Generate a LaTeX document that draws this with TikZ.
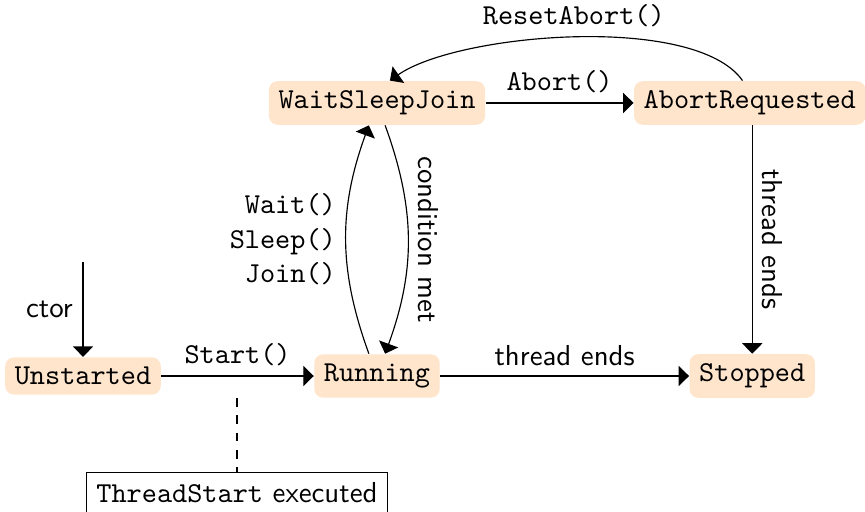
\documentclass[tikz,border=0pt]{standalone}
\usepackage{tikz}
\usetikzlibrary{positioning,arrows.meta}

\begin{document}
\begin{tikzpicture}[
	font=\sffamily,
	>={Triangle[length=3.6pt, width=7pt]},
	threadstate/.style={fill=orange!20, rounded corners=3pt, font=\ttfamily},
	downlabel/.style={midway, rotate=-90, anchor=south},
]

\useasboundingbox (-1.011, -1.644) rectangle (9.523, 4.579);

% Unstarted
\node [threadstate] (unstarted) at (0, 0) {Unstarted};

% Running
\node [threadstate] (running) at (3.58, 0) {Running};

% Stopped
\node [threadstate] (stopped) at (8.15, 0) {Stopped};

% WaitSleepJoin
\node [threadstate] (waitsleepjoin) at (3.58, 3.325) {WaitSleepJoin};

% AbortRequested
\node [threadstate] (abortrequested) at (8.12, 3.325) {AbortRequested};

% ThreadStart note
\node [draw] (threadstart) at (1.875, -1.42) {\texttt{ThreadStart} executed};

% free ends
\coordinate (ctor) at (0, 1.39);
\coordinate (startcall) at (1.875, -0.27);

% Arrows with text label
\draw[->] (ctor) -- (unstarted) node[midway, left] {ctor};
\draw[->] (unstarted) -- (running) node[midway, above] {\texttt{Start()}};
\draw[->] (running) -- (stopped) node[midway, above] {thread ends};
\draw[->] (running) to[bend left=20] node[midway, left, align=right, font=\ttfamily] {Wait()\\Sleep()\\Join()} (waitsleepjoin);
\draw[->] (waitsleepjoin) to[bend left=20] node[downlabel] {condition met} (running);
\draw[->] (waitsleepjoin) -- (abortrequested) node[midway, above] {\texttt{Abort()}};
\draw[->] (abortrequested.108) to[out=125, in=35, looseness=0.6] node[midway, above] {\texttt{ResetAbort()}} (waitsleepjoin.60);
\draw[->] (abortrequested.south -| stopped) -- (stopped) node[downlabel] {thread ends};
\draw[dashed] (startcall) -- (threadstart);

\end{tikzpicture}
\end{document}
